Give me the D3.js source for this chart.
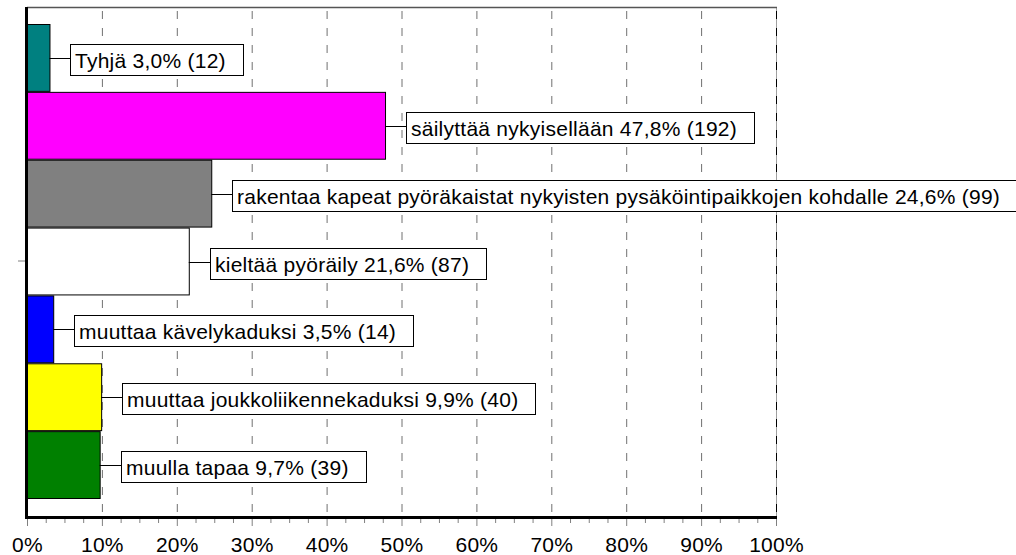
<!DOCTYPE html>
<html>
<head>
<meta charset="utf-8">
<script src="https://cdn.jsdelivr.net/npm/d3@7"></script>
<style>
  body { margin: 0; background: #fff; }
  text { font-family: 'Liberation Sans', Arial, sans-serif; font-size: 21px; letter-spacing: 0.25px; fill: #000; }
</style>
</head>
<body>
<div id="chart"></div>
<script>
const categories = [
  'Tyhjä',
  'säilyttää nykyisellään',
  'rakentaa kapeat pyöräkaistat nykyisten pysäköintipaikkojen kohdalle',
  'kieltää pyöräily',
  'muuttaa kävelykaduksi',
  'muuttaa joukkoliikennekaduksi',
  'muulla tapaa'
]
const percents = [3.0, 47.8, 24.6, 21.6, 3.5, 9.9, 9.7]
const counts = [12, 192, 99, 87, 14, 40, 39]
const colors = ['#008080', '#ff00ff', '#808080', '#ffffff', '#0000ff', '#ffff00', '#008000']
const majorTicks = [0, 10, 20, 30, 40, 50, 60, 70, 80, 90, 100]
const minorTicks = d3.range(0, 100.001, 2.5)

const width = 1016
const height = 555
const plot = { left: 27, right: 776, top: 7, bottom: 517 }

const svg = d3
  .select('#chart')
  .append('svg')
  .attr('width', width)
  .attr('height', height)

const x = d3.scaleLinear().domain([0, 100]).range([plot.left, plot.right])
const y = d3.scaleBand().domain(categories).range([24, 499]).padding(0)

// right frame (solid grey under the dashes)
svg.append('line')
  .attr('x1', x(100) + 0.5).attr('x2', x(100) + 0.5)
  .attr('y1', plot.top).attr('y2', plot.bottom)
  .attr('stroke', '#a0a0a0')

// dashed gridlines
svg
  .selectAll('.grid')
  .data(majorTicks.slice(1))
  .enter()
  .append('line')
  .attr('class', 'grid')
  .attr('x1', d => x(d) + 0.5)
  .attr('x2', d => x(d) + 0.5)
  .attr('y1', plot.top + 4)
  .attr('y2', plot.bottom)
  .attr('stroke', d => d === 100 ? '#000' : '#707070')
  .attr('stroke-width', 1)
  .attr('stroke-dasharray', '8,9')

// top border
svg.append('line')
  .attr('x1', plot.left).attr('x2', x(100) + 1)
  .attr('y1', plot.top + 0.5).attr('y2', plot.top + 0.5)
  .attr('stroke', '#555').attr('stroke-width', 1.5)

// bars
svg
  .selectAll('.bar')
  .data(categories)
  .enter()
  .append('rect')
  .attr('class', 'bar')
  .attr('x', x(0) + 0.5)
  .attr('y', d => y(d) + 0.5)
  .attr('width', (d, i) => x(percents[i]) - x(0))
  .attr('height', y.bandwidth() - 1)
  .attr('fill', (d, i) => colors[i])
  .attr('stroke', '#000')
  .attr('stroke-width', 1)

// x axis ticks
svg
  .selectAll('.minor')
  .data(minorTicks)
  .enter()
  .append('line')
  .attr('x1', d => x(d) + 0.5)
  .attr('x2', d => x(d) + 0.5)
  .attr('y1', plot.bottom)
  .attr('y2', d => plot.bottom + (d % 10 === 0 ? 9 : 6))
  .attr('stroke', '#808080')

const xAxis = d3.axisBottom(x)
  .tickValues(majorTicks)
  .tickSize(0)
  .tickPadding(0)
  .tickFormat(d => d + '%')

svg.append('g')
  .attr('transform', `translate(0,${plot.bottom})`)
  .call(xAxis)
  .call(g => g.select('.domain').remove())
  .selectAll('text')
  .attr('dy', null)
  .attr('y', 35)
  .attr('fill', '#000')
  .style('font-size', '21px')
  .style('font-family', "'Liberation Sans', Arial, sans-serif")

// y axis single tick
svg.append('line')
  .attr('x1', 18).attr('x2', plot.left)
  .attr('y1', y(categories[3]) + y.bandwidth() / 2 - 0.5)
  .attr('y2', y(categories[3]) + y.bandwidth() / 2 - 0.5)
  .attr('stroke', '#808080')

// thick axis lines
svg.append('line')
  .attr('x1', plot.left - 0.5).attr('x2', plot.left - 0.5)
  .attr('y1', plot.top).attr('y2', plot.bottom + 2)
  .attr('stroke', '#000').attr('stroke-width', 3)
svg.append('line')
  .attr('x1', plot.left - 2).attr('x2', x(100) + 1)
  .attr('y1', plot.bottom + 0.5).attr('y2', plot.bottom + 0.5)
  .attr('stroke', '#000').attr('stroke-width', 3)

// labels with boxes
const labels = svg
  .selectAll('.label')
  .data(categories)
  .enter()
  .append('g')
  .attr('class', 'label')

labels.each(function (d, i) {
  const g = d3.select(this)
  const cy = Math.round(y(d) + y.bandwidth() / 2)
  const barEnd = x(percents[i])
  const boxX = Math.round(barEnd + 21)
  g.append('line')
    .attr('x1', barEnd).attr('x2', boxX)
    .attr('y1', cy + 0.5).attr('y2', cy + 0.5)
    .attr('stroke', '#000')
  const rect = g.append('rect')
  const txt = g.append('text')
    .attr('x', boxX + 5)
    .attr('y', cy + 9.5)
    .text(d + ' ' + percents[i].toFixed(1).replace('.', ',') + '% (' + counts[i] + ')')
  const w = txt.node().getComputedTextLength()
  rect
    .attr('x', boxX + 0.5)
    .attr('y', cy - 14 + 0.5)
    .attr('width', Math.round(w + 22))
    .attr('height', 31)
    .attr('fill', '#fff')
    .attr('stroke', '#000')
})
</script>
</body>
</html>
